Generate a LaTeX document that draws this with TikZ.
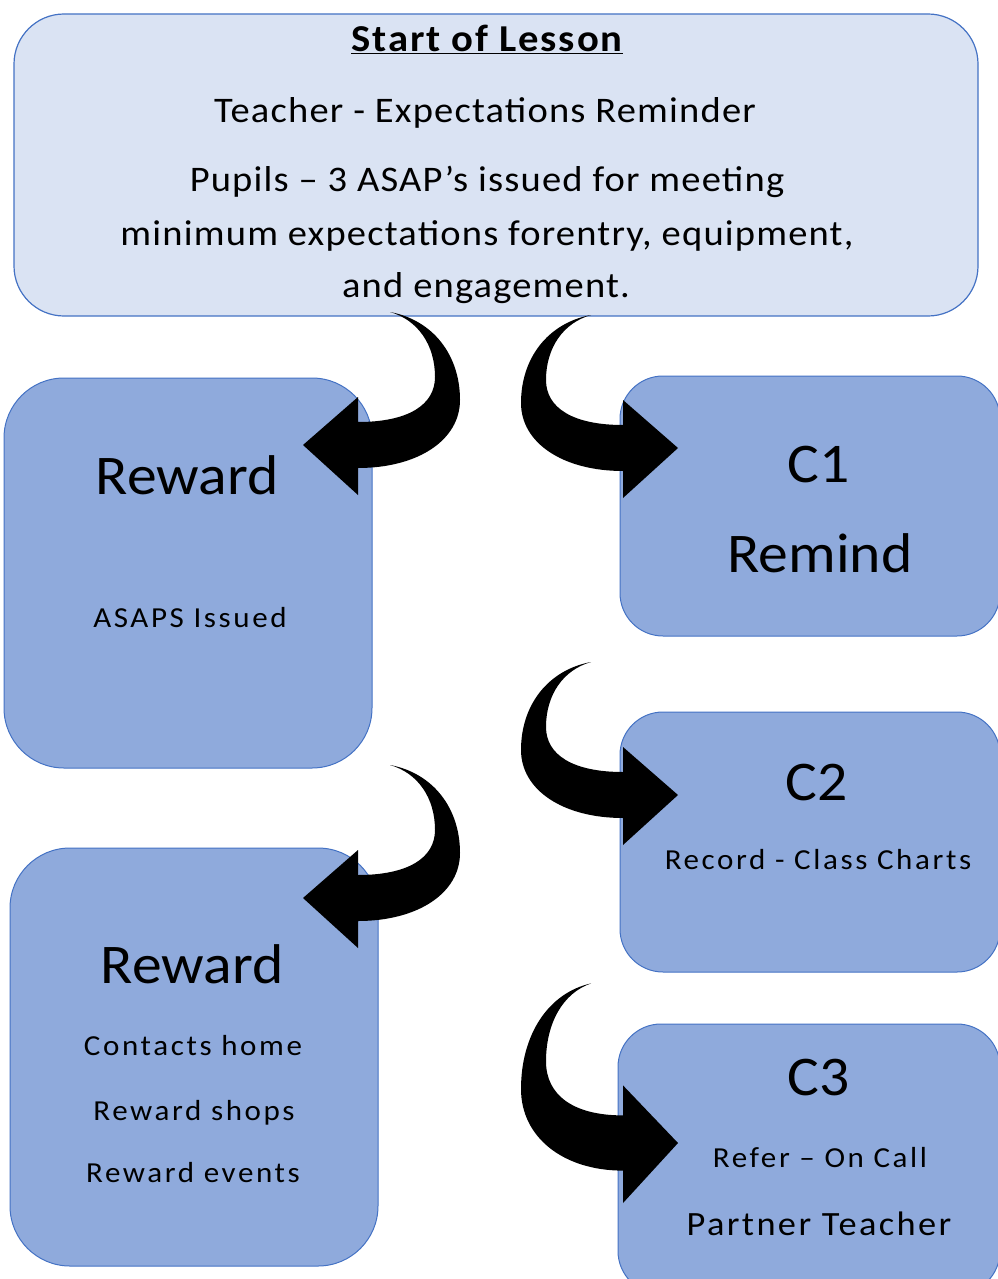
\documentclass[tikz,border=0pt]{standalone}
\usepackage{fontspec}
\setmainfont{Carlito}
\usetikzlibrary{positioning}

\definecolor{paleblue}{HTML}{DAE3F3}
\definecolor{midblue}{HTML}{8FAADC}
\definecolor{edgeblue}{HTML}{4472C4}

\tikzset{
  card/.style={draw=edgeblue, line width=1pt, fill=midblue, rounded corners=#1},
  card/.default=43pt,
  big/.style={font=\fontsize{56}{60}\selectfont\addfontfeatures{FakeStretch=1.065}, anchor=base, inner sep=0pt},
  mid/.style={font=\fontsize{36}{40}\selectfont\addfontfeatures{FakeStretch=1.07,LetterSpace=3.3}, anchor=base, inner sep=0pt},
  small/.style={font=\fontsize{29}{32}\selectfont\addfontfeatures{FakeStretch=1.07,LetterSpace=9}, anchor=base, inner sep=0pt},
  bentarrow/.pic={
    \fill (0,0) -- (55,-48) -- (55,-23)
      .. controls (105,-23) and (132,-40) .. (132,-68)
      .. controls (132,-100) and (115,-125) .. (87,-133)
      .. controls (130,-125) and (157,-90) .. (157,-45)
      .. controls (157,-5) and (115,23) .. (55,23)
      -- (55,50) -- cycle;
  }
}

\begin{document}
\begin{tikzpicture}[x=1pt, y=-1pt]
  \useasboundingbox (0,0) rectangle (998,1279);
  \clip (0,0) rectangle (998,1279);

  % lesson start
  \node [draw=edgeblue, line width=1.2pt, fill=paleblue, rounded corners=50pt,
         minimum width=964pt, minimum height=302pt] (lesson) at (496,165) {};
  \node [mid, font=\fontsize{38}{40}\selectfont\bfseries\addfontfeatures{FakeStretch=1.07,LetterSpace=5}] (title) at (487,52) {\underline{Start of Lesson}};
  \node [mid] (teacher) at (485,123) {Teacher - Expectations Reminder};
  \node [mid] (pupils) at (487,191) {Pupils – 3 ASAP’s issued for meeting};
  \node [mid] (minimum) at (487,245) {minimum expectations forentry, equipment,};
  \node [mid] (engage) at (486,297) {and engagement.};

  % rewards side
  \node [card=60pt, minimum width=368pt, minimum height=390pt] (reward1) at (188,573) {};
  \node [big] (reward1title) at (187,494) {Reward};
  \node [small] (asaps) at (190,627) {ASAPS Issued};

  \node [card=60pt, minimum width=368pt, minimum height=418pt] (reward2) at (194,1057) {};
  \node [big] (reward2title) at (192,983) {Reward};
  \node [small] (contacts) at (193,1055) {Contacts home};
  \node [small] (shops) at (194,1120) {Reward shops};
  \node [small] (events) at (193,1182) {Reward events};

  % consequences side
  \node [card, minimum width=380pt, minimum height=260pt] (c1) at (810,506) {};
  \node [big] (c1title) at (819,482) {C1};
  \node [big] (remind) at (820,572) {Remind};

  \node [card, minimum width=380pt, minimum height=260pt] (c2) at (810,842) {};
  \node [big] (c2title) at (817,800) {C2};
  \node [small] (record) at (818,869) {Record - Class Charts};

  \node [card, minimum width=382pt, minimum height=270pt] (c3) at (809,1159) {};
  \node [big] (c3title) at (819,1095) {C3};
  \node [small] (refer) at (820,1167) {Refer – On Call};
  \node [mid, font=\fontsize{34}{36}\selectfont\addfontfeatures{FakeStretch=1.07,LetterSpace=7}] (partner) at (819,1235) {Partner Teacher};

  % bent arrows
  \pic at (303,445) {bentarrow};
  \pic [xscale=-1] at (678,448) {bentarrow};
  \pic at (303,898) {bentarrow};
  \pic [xscale=-1] at (678,795) {bentarrow};
  \pic [xscale=-1, yscale=1.2] at (678,1143) {bentarrow};
\end{tikzpicture}
\end{document}
